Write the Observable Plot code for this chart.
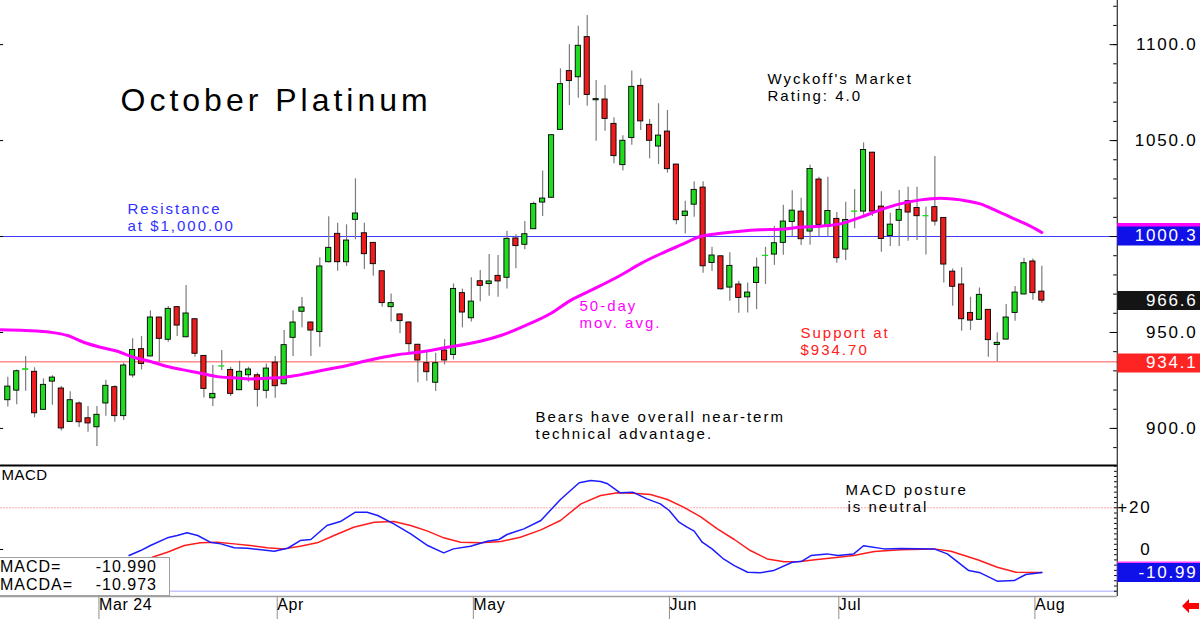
<!DOCTYPE html>
<html><head><meta charset="utf-8">
<script src="https://cdn.jsdelivr.net/npm/d3@7"></script>
<script src="https://cdn.jsdelivr.net/npm/@observablehq/plot@0.6"></script>
<style>
body{margin:0;background:#fff;}
#wrap{position:relative;width:1200px;height:619px;overflow:hidden;background:#fff;font-family:"Liberation Sans",Arial,sans-serif;}
#price,#macd{position:absolute;left:0;}
#price{top:0;}
#macd{top:464px;}
#legend{position:absolute;left:-1px;top:557px;width:169px;height:37px;border:1px solid #a0a0a0;background:#fff;font-size:16px;letter-spacing:1px;color:#000;}
#legend div{position:relative;height:18px;line-height:18px;}
#legend span.v{position:absolute;right:12px;}
#arrow{position:absolute;left:1182px;top:599px;}
</style></head>
<body><div id="wrap"><div id="price"></div><div id="macd"></div>
<div id="legend"><div><span>MACD=</span><span class="v">-10.990</span></div><div><span>MACDA=</span><span class="v">-10.973</span></div></div>
<svg id="arrow" width="18" height="14"><path d="M0,7 L7,0 L7,4 L17,4 L17,10 L7,10 L7,14 Z" fill="#ff0000"/></svg>
</div>
<script>
// ---- trading-day index of each bar (0 = 1 Mar 2024) ----
const barIndex = d3.range(-10, 107);
const opens = [914.7,919.7,930.5,929.5,909.7,924.4,920.8,903.4,913.0,905.3,
 900.6,913.0,921.5,906.4,927.6,941.3,937.5,957.8,946.2,963.2,
 947.5,956.9,937.8,915.7,932.2,930.5,919.9,927.7,927.7,919.6,
 934.3,923.0,947.2,960.8,955.2,950.2,986.6,1001.4,986.6,1008.7,
 1001.7,996.7,981.9,963.2,959.4,955.2,943.6,934.0,923.8,940.6,
 938.3,970.5,957.4,976.7,975.2,979.5,978.5,999.0,995.7,1003.8,
 1017.7,1020.2,1055.6,1086.2,1083.0,1103.9,1071.0,1071.4,1058.7,1037.2,
 1051.3,1078.5,1058.2,1046.9,1054.7,1037.5,1010.7,1016.6,1025.5,986.2,
 989.7,973.4,975.0,968.3,975.8,989.8,990.6,996.7,1007.6,1013.0,
 1002.6,1029.7,1005.0,1009.2,993.2,1012.9,1013.0,1043.7,1015.6,1000.3,
 1008.2,1018.4,1014.9,1010.5,1015.3,1009.7,981.7,975.0,960.2,956.6,
 961.8,943.5,946.3,960.2,969.8,987.0,971.3];
const highs = [926.7,930.5,937.5,931.6,925.8,927.4,921.8,919.1,913.8,911.4,
 911.4,925.1,922.2,934.0,946.7,947.9,961.3,958.0,963.5,963.5,
 974.5,957.0,938.0,932.8,940.6,931.9,935.0,931.9,928.8,933.6,
 937.5,951.0,961.3,968.2,955.4,988.9,1010.3,1006.9,1006.1,1030.1,
 1006.9,996.9,982.1,970.1,959.6,955.4,943.8,940.6,939.2,946.3,
 975.3,972.6,978.5,982.3,990.6,990.1,1002.8,1000.9,1007.8,1017.9,
 1034.1,1053.0,1087.4,1099.9,1109.6,1115.2,1081.3,1078.7,1061.9,1052.5,
 1086.2,1082.2,1061.0,1069.2,1065.7,1037.7,1018.4,1028.6,1028.6,994.4,
 989.9,991.6,976.7,975.8,988.8,994.4,1005.2,1016.3,1023.9,1019.9,
 1037.1,1030.9,1030.9,1012.5,1017.9,1024.5,1048.8,1043.9,1023.4,1012.1,
 1024.0,1025.7,1025.7,1015.3,1041.7,1009.9,983.1,983.7,968.4,973.2,
 962.0,949.8,964.6,973.9,988.7,988.3,984.5];
const lows = [911.1,912.4,919.4,905.5,909.5,912.1,898.7,903.2,900.5,898.0,
 890.6,906.4,903.2,904.1,926.3,930.5,937.3,934.5,944.9,947.9,
 947.2,937.1,915.9,911.4,930.2,916.6,919.7,924.1,911.1,915.4,
 915.7,922.8,937.5,952.4,937.5,942.3,986.4,981.9,984.4,998.3,
 982.8,979.3,963.2,955.4,949.3,939.2,923.8,924.6,919.2,933.1,
 935.7,952.4,955.4,966.0,968.9,968.4,972.6,983.2,993.1,1003.6,
 1010.4,1019.8,1055.4,1068.3,1072.1,1067.9,1049.7,1054.9,1037.9,1034.2,
 1047.6,1055.3,1040.5,1037.5,1033.0,1006.2,1001.4,1010.0,980.9,981.9,
 972.2,966.3,960.0,960.2,961.9,975.0,985.0,990.2,1000.0,995.3,
 995.4,1000.0,999.8,986.1,987.5,1004.0,1010.9,1010.4,991.8,994.8,
 994.8,997.6,997.9,990.4,1005.5,975.8,963.7,950.7,951.0,956.4,
 937.1,934.7,946.1,955.9,969.6,966.8,965.2];
const closes = [921.8,929.8,930.9,907.9,922.7,926.5,900.0,914.7,903.2,902.6,
 907.1,922.2,906.4,932.8,940.9,933.6,957.8,946.7,962.3,953.6,
 959.9,938.9,920.6,918.0,932.4,918.0,929.5,930.7,920.1,931.2,
 922.0,943.4,955.2,963.0,951.0,984.4,994.1,986.6,997.9,1012.0,
 990.8,985.6,965.3,965.3,955.9,943.9,935.4,929.3,934.0,935.4,
 972.7,960.4,966.1,974.3,976.6,976.6,998.8,995.0,1001.2,1017.0,
 1019.8,1052.8,1079.4,1081.0,1099.4,1073.8,1071.6,1061.3,1041.9,1049.9,
 1078.0,1060.0,1049.9,1052.6,1035.1,1008.5,1013.0,1024.3,984.5,990.1,
 972.5,984.7,968.0,970.8,983.8,990.0,996.5,1007.8,1013.5,998.6,
 1035.2,1006.1,1013.3,988.7,1008.6,1013.1,1045.1,1013.0,998.7,1006.2,
 1013.9,1012.5,1010.6,1010.7,1007.8,985.4,973.8,956.9,956.2,969.6,
 946.0,944.6,957.8,970.8,986.1,970.5,966.6];

// 50-day moving average, read at these bar positions
const maIndex = [-10.8,-8.0,-5.2,-3.3,-1.5,0.4,2.3,4.1,6.0,7.9,9.7,11.6,13.5,15.4,17.2,19.1,21.0,22.8,24.3,26.2,28.1,30.0,31.8,33.7,35.6,37.4,39.3,41.2,43.0,45.3,48.6,50.9,53.1,55.4,58.7,61.0,63.2,65.5,67.7,70.0,72.2,74.4,76.7,78.9,81.2,83.4,85.7,87.9,90.1,92.4,94.6,96.9,99.1,101.0,102.9,104.7,106];
const maValue = [951.4,951.0,950.1,948.4,944.9,942.3,940.2,937.1,934.9,932.3,930.5,928.8,927.0,926.4,925.8,926.2,926.7,927.9,929.3,931.1,932.8,935.0,936.8,938.4,939.4,940.6,942.3,943.7,945.4,948.4,954.7,959.9,966.6,971.9,979.7,985.9,990.9,995.6,1000.0,1001.7,1002.8,1003.5,1003.8,1004.8,1005.4,1006.6,1010.1,1013.9,1017.0,1019.1,1020.0,1019.1,1017.0,1013.2,1009.2,1005.4,1002.1];

// MACD and its average (MACDA)
const macdIndex = [3.6,4.9,6.0,7.9,9.0,10.1,11.3,12.7,13.9,15.4,16.9,18.4,19.9,21.4,22.8,24.0,25.8,27.3,29.0,30.3,31.5,33.3,35.2,37.1,38.9,40.0,41.9,43.8,45.1,46.0,47.9,49.8,52.0,54.1,55.4,56.5,57.3,58.7,60.1,61.7,63.2,64.2,65.3,66.2,67.0,67.9,69.0,70.2,71.5,73.0,74.4,75.9,78.0,79.1,80.1,81.9,83.1,84.9,86.0,88.3,90.2,93.9,95.4,97.8,99.1,101.0,102.9,104.2,106];
const macdValue = [-2.9,-0.5,1.9,5.6,6.7,8.0,6.7,3.5,2.7,0.8,0.6,-0.1,-0.8,0.6,4.3,4.8,11.5,13.4,17.9,17.9,16.3,12.3,7.5,1.9,-1.6,0.3,1.6,4.0,4.8,7.2,9.9,13.9,24.0,32.0,33.1,32.6,31.5,27.2,27.5,24.3,21.9,18.7,13.1,10.7,8.8,3.5,0.3,-4.2,-7.7,-10.9,-11.2,-10.1,-6.1,-5.6,-2.9,-2.1,-2.9,-2.1,1.8,0.3,0.5,0.3,-2.1,-10.1,-11.2,-15.2,-14.9,-12.0,-10.99];
const macdaIndex = [6.2,7.9,9.8,11.6,13.5,15.4,17.2,19.1,21.0,22.8,24.7,26.6,28.8,31.1,33.3,35.2,37.1,38.9,40.8,43.0,45.3,47.5,49.8,52.0,54.3,56.5,58.4,60.2,62.1,64.0,65.8,67.7,69.6,71.5,73.3,75.2,77.1,78.9,80.8,82.7,84.9,87.2,90.2,93.9,95.8,98.8,101.0,103.1,106];
const macdaValue = [-3.7,-1.3,1.9,3.2,3.5,2.7,1.9,0.8,0.3,1.6,3.2,6.7,10.7,13.1,13.4,11.5,8.8,5.6,3.5,3.2,3.8,5.9,9.4,13.9,21.9,25.9,27.2,27.0,26.4,24.0,20.3,15.8,9.9,4.8,-0.5,-4.5,-5.9,-5.8,-4.8,-4.0,-2.9,-1.0,-0.1,0.3,-0.8,-4.9,-8.5,-10.9,-10.97];

// axes / reference levels / labels
const monthIndex = [0, 20, 42, 64, 83, 105];
const monthLabels = ["Mar 24", "Apr", "May", "Jun", "Jul", "Aug"];
const priceTicks = [900, 950, 1050, 1100];
const macdTicks = [20, 0];
const resistance = 1000;
const support = 934.7;
// the magenta tag (50-day avg) sits hidden behind the blue one
const hiddenPriceTags = [{value: 1002.1, fill: "#ff00ff"}];
const priceTags = [
  {value: 1000.3, label: "1000.3", fill: "#1010e8"},
  {value: 966.6, label: "966.6", fill: "#141414"},
  {value: 934.1, label: "934.1", fill: "#ff2424"}
];
const hiddenMacdTags = [{value: -10.973, fill: "#ff40ff"}];
const macdTags = [{value: -10.99, label: "-10.99", fill: "#1010e8"}];
const priceNotes = [
  {text: "October Platinum", x: 120, y: 100, size: 32, color: "#000", ls: 4},
  {text: "Wyckoff's Market", x: 767, y: 79, size: 15, color: "#000", ls: 2},
  {text: "Rating: 4.0", x: 767, y: 96, size: 15, color: "#000", ls: 2},
  {text: "Resistance", x: 127, y: 209, size: 15, color: "#3030ff", ls: 2},
  {text: "at $1,000.00", x: 127, y: 226, size: 15, color: "#3030ff", ls: 2},
  {text: "50-day", x: 579, y: 306, size: 15, color: "#ff00ff", ls: 2},
  {text: "mov. avg.", x: 579, y: 323, size: 15, color: "#ff00ff", ls: 2},
  {text: "Support at", x: 800, y: 333, size: 15, color: "#ff2020", ls: 2},
  {text: "$934.70", x: 800, y: 350, size: 15, color: "#ff2020", ls: 2},
  {text: "Bears have overall near-term", x: 535, y: 417, size: 15, color: "#000", ls: 2},
  {text: "technical advantage.", x: 535, y: 434, size: 15, color: "#000", ls: 2}
];
const macdNotes = [
  {text: "MACD", x: 1, y: 11, size: 15, color: "#000", ls: 0.5},
  {text: "MACD posture", x: 845, y: 26, size: 15, color: "#000", ls: 2},
  {text: "is neutral", x: 847, y: 43, size: 15, color: "#000", ls: 2}
];

// ---- layout ----
const xDomain = [-10.82, 123.8];
const axisEnd = 114.46;
const FONT = '"Liberation Sans", Arial, sans-serif';

const bars = barIndex.map((i, k) => ({i, open: opens[k], high: highs[k], low: lows[k], close: closes[k]}));
const ma = maIndex.map((i, k) => ({i, v: maValue[k]}));
const macd = macdIndex.map((i, k) => ({i, v: macdValue[k]}));
const macda = macdaIndex.map((i, k) => ({i, v: macdaValue[k]}));

const noteMarks = (notes) => notes.map(n => Plot.text([n], {
  text: "text", frameAnchor: "top-left", dx: n.x, dy: n.y, textAnchor: "start", lineAnchor: "middle",
  fill: n.color, fontSize: n.size, fontFamily: FONT
}));

const upColor = "#20dc20", downColor = "#ee1c1c";

const priceChart = Plot.plot({
  width: 1200, height: 464, margin: 0,
  x: {domain: xDomain, axis: null},
  y: {domain: [881.2, 1123.0], axis: null},
  color: {type: "identity"},
  style: {fontFamily: FONT, background: "transparent"},
  marks: [
    Plot.ruleY([resistance], {stroke: "#3c3cff", strokeWidth: 1}),
    Plot.ruleY([support], {stroke: "#ff8c8c", strokeWidth: 1.5}),
    Plot.ruleY(d3.range(890, 1121, 10), {x1: axisEnd - 0.4, x2: axisEnd, stroke: "#000", strokeWidth: 1}),
    Plot.ruleY(d3.range(900, 1101, 50), {x1: axisEnd - 0.8, x2: axisEnd, stroke: "#000", strokeWidth: 1}),
    Plot.ruleY(d3.range(900, 1101, 50), {x1: xDomain[0], x2: xDomain[0] + 0.35, stroke: "#000", strokeWidth: 1}),
    Plot.ruleX(bars, {x: "i", y1: "low", y2: "high", stroke: "#7c7c7c", strokeWidth: 1.2}),
    Plot.rect(bars, {
      x1: d => d.i - 0.29, x2: d => d.i + 0.29, y1: "open", y2: "close",
      fill: d => d.close >= d.open ? upColor : downColor,
      stroke: d => Math.abs(d.close - d.open) < 0.5 ? upColor : "#000",
      strokeWidth: 0.9
    }),
    Plot.line(ma, {x: "i", y: "v", stroke: "#ff00ff", strokeWidth: 3, curve: "monotone-x"}),
    Plot.ruleX([axisEnd], {stroke: "#000", strokeWidth: 1}),
    Plot.text(priceTicks, {y: d => d, text: d => d.toFixed(1), frameAnchor: "right", textAnchor: "end", dx: -3, fontSize: 17, fill: "#000"}),
    Plot.ruleY(hiddenPriceTags, {y: "value", x1: axisEnd + 0.06, x2: xDomain[1], stroke: "fill", strokeWidth: 19}),
    Plot.ruleY(priceTags, {y: "value", x1: axisEnd + 0.06, x2: xDomain[1], stroke: "fill", strokeWidth: 19}),
    Plot.text(priceTags, {y: "value", text: "label", frameAnchor: "right", textAnchor: "end", dx: -3, fontSize: 17, fill: "#fff"}),
    ...noteMarks(priceNotes)
  ]
});

const macdChart = Plot.plot({
  width: 1200, height: 155, marginTop: 0, marginLeft: 0, marginRight: 0, marginBottom: 23,
  x: {domain: xDomain},
  y: {domain: [-22.54, 40.77], axis: null},
  color: {type: "identity"},
  style: {fontFamily: FONT, background: "transparent"},
  marks: [
    Plot.ruleY([20], {x1: xDomain[0], x2: axisEnd, stroke: "#ffa8a8", strokeWidth: 1, strokeDasharray: "2,1"}),
    Plot.ruleY([-20], {x1: xDomain[0], x2: axisEnd, stroke: "#c4c4ff", strokeWidth: 1.5}),
    Plot.ruleY([-22.54], {x1: xDomain[0], x2: axisEnd, stroke: "#a0a0a0", strokeWidth: 1.5}),
    Plot.ruleY([40.77], {x1: xDomain[0], x2: axisEnd, stroke: "#000", strokeWidth: 2, dy: 1}),
    Plot.ruleY(d3.range(-20, 40.1, 2.5), {x1: axisEnd - 0.3, x2: axisEnd, stroke: "#000", strokeWidth: 1}),
    Plot.ruleY([0], {x1: xDomain[0], x2: xDomain[0] + 0.35, stroke: "#000"}),
    Plot.line(macda, {x: "i", y: "v", stroke: "#ff1c1c", strokeWidth: 1.5, curve: "linear"}),
    Plot.line(macd, {x: "i", y: "v", stroke: "#1c1cff", strokeWidth: 1.5, curve: "linear"}),
    Plot.ruleX([axisEnd], {y1: -22.54, y2: 40.77, stroke: "#000", strokeWidth: 1}),
    Plot.text(macdTicks, {y: d => d, text: d => d > 0 ? "+" + d : String(d), frameAnchor: "right", textAnchor: "end", dx: -49, fontSize: 17, fill: "#000"}),
    Plot.ruleY(hiddenMacdTags, {y: "value", x1: axisEnd + 0.06, x2: xDomain[1], stroke: "fill", strokeWidth: 20, dy: -1}),
    Plot.ruleY(macdTags, {y: "value", x1: axisEnd + 0.06, x2: xDomain[1], stroke: "fill", strokeWidth: 19}),
    Plot.text(macdTags, {y: "value", text: "label", frameAnchor: "right", textAnchor: "end", dx: -3, fontSize: 17, fill: "#fff"}),
    Plot.axisX({ticks: monthIndex, tickFormat: d => monthLabels[monthIndex.indexOf(d)], tickSize: 23, tickPadding: -21,
      textAnchor: "start", dx: 2, fontSize: 16, stroke: "#909090", fill: "#000", label: null}),
    ...noteMarks(macdNotes)
  ]
});

document.getElementById("price").appendChild(priceChart);
document.getElementById("macd").appendChild(macdChart);

// letter spacing like the original terminal font
const spacing = new Map([...priceNotes, ...macdNotes].map(n => [n.text, n.ls]));
for (const svg of [priceChart, macdChart]) {
  d3.select(svg).selectAll("text").each(function() {
    const t = this.textContent;
    const ls = spacing.has(t) ? spacing.get(t) : 1.8;
    this.setAttribute("letter-spacing", ls + "px");
  });
}
d3.select(macdChart).selectAll("[aria-label='x-axis tick label'] text").attr("letter-spacing", "0.6px");
</script>
</body></html>
